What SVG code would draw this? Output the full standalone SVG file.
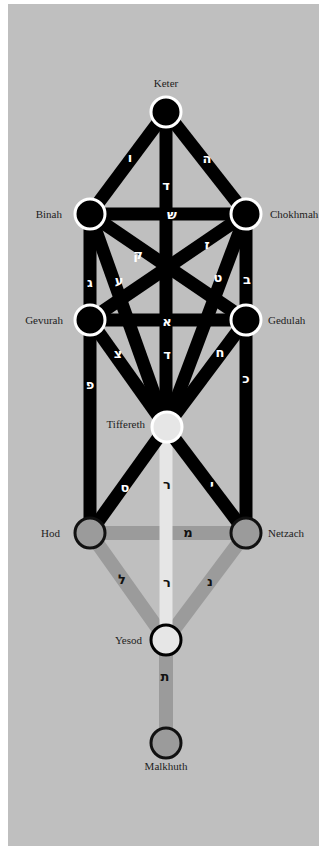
<svg xmlns="http://www.w3.org/2000/svg" width="321" height="846" viewBox="0 0 321 846">
<style>
.bk{stroke:#000;stroke-width:13;stroke-linecap:butt}
.gr{stroke:#9b9b9b;stroke-width:14}
.lt{stroke:#e6e6e6;stroke-width:13}
.he{font-family:"DejaVu Sans","Liberation Serif",sans-serif;font-size:13px;font-weight:bold;text-anchor:middle}
.hw{fill:#fff}
.hb{fill:#111}
.nm{font-family:"Liberation Serif","DejaVu Serif",serif;font-size:11px;fill:#222}
.up{fill:#000;stroke:#fff;stroke-width:3}
.tf{fill:#e6e6e6;stroke:#fff;stroke-width:3}
.lo{fill:#9b9b9b;stroke:#111;stroke-width:3}
.ys{fill:#e6e6e6;stroke:#000;stroke-width:3}
</style>
<rect x="8" y="4" width="311" height="842" fill="#bfbfbf"/>
<g id="connectors">
<line class="gr" x1="90" y1="533" x2="246" y2="533" stroke-width="15"/>
<line class="gr" x1="90" y1="533" x2="166" y2="640"/>
<line class="gr" x1="246" y1="533" x2="166" y2="640"/>
<line class="gr" x1="166" y1="640" x2="166" y2="743"/>
<line class="lt" x1="166" y1="427" x2="166" y2="640"/>
<line class="bk" x1="90" y1="214" x2="90" y2="533"/>
<line class="bk" x1="246" y1="214" x2="246" y2="533"/>
<line class="bk" x1="166" y1="427" x2="90" y2="533"/>
<line class="bk" x1="166" y1="427" x2="246" y2="533"/>
<line class="bk" x1="90" y1="214" x2="166" y2="427"/>
<line class="bk" x1="246" y1="214" x2="166" y2="427"/>
<line class="bk" x1="90" y1="320" x2="166" y2="427"/>
<line class="bk" x1="246" y1="320" x2="166" y2="427"/>
<line class="bk" x1="90" y1="214" x2="246" y2="320"/>
<line class="bk" x1="246" y1="214" x2="90" y2="320"/>
<line class="bk" x1="90" y1="320" x2="246" y2="320"/>
<line class="bk" x1="166" y1="112" x2="90" y2="214"/>
<line class="bk" x1="166" y1="112" x2="246" y2="214"/>
<line class="bk" x1="90" y1="214" x2="246" y2="214" stroke-width="16"/>
<line class="bk" x1="166" y1="112" x2="166" y2="427"/>
</g>
<g id="path-labels">
<text class="he hw" x="130" y="162">ו</text>
<text class="he hw" x="207" y="163">ה</text>
<text class="he hw" x="166" y="190">ד</text>
<text class="he hw" x="172" y="219">ש</text>
<text class="he hw" x="138" y="259">ק</text>
<text class="he hw" x="207" y="249">ז</text>
<text class="he hw" x="90" y="287">ג</text>
<text class="he hw" x="119" y="285">ע</text>
<text class="he hw" x="218" y="282">ט</text>
<text class="he hw" x="247" y="284">ב</text>
<text class="he hw" x="167" y="326">א</text>
<text class="he hw" x="118" y="358">צ</text>
<text class="he hw" x="167" y="359">ד</text>
<text class="he hw" x="220" y="357">ח</text>
<text class="he hw" x="90" y="389">פ</text>
<text class="he hw" x="246" y="383">כ</text>
<text class="he hw" x="125" y="492">ס</text>
<text class="he hw" x="212" y="489">י</text>
<text class="he hb" x="167" y="489">ר</text>
<text class="he hb" x="188" y="537">מ</text>
<text class="he hb" x="122" y="584">ל</text>
<text class="he hb" x="167" y="587">ר</text>
<text class="he hb" x="210" y="586">נ</text>
<text class="he hb" x="165" y="681">ת</text>
</g>
<g id="keter"><circle class="up" cx="166" cy="112" r="15"/><text class="nm" x="166" y="87" text-anchor="middle">Keter</text></g>
<g id="binah"><circle class="up" cx="90" cy="214" r="15"/><text class="nm" x="62" y="218" text-anchor="end">Binah</text></g>
<g id="chokhmah"><circle class="up" cx="246" cy="214" r="15"/><text class="nm" x="270" y="218">Chokhmah</text></g>
<g id="gevurah"><circle class="up" cx="90" cy="320" r="15"/><text class="nm" x="63" y="324" text-anchor="end">Gevurah</text></g>
<g id="gedulah"><circle class="up" cx="246" cy="320" r="15"/><text class="nm" x="268" y="324">Gedulah</text></g>
<g id="tiffereth"><circle class="tf" cx="167" cy="427" r="15"/><text class="nm" x="145" y="428" text-anchor="end">Tiffereth</text></g>
<g id="hod"><circle class="lo" cx="90" cy="533" r="15"/><text class="nm" x="60" y="537" text-anchor="end">Hod</text></g>
<g id="netzach"><circle class="lo" cx="246" cy="533" r="15"/><text class="nm" x="268" y="537">Netzach</text></g>
<g id="yesod"><circle class="ys" cx="166" cy="640" r="15"/><text class="nm" x="142" y="644" text-anchor="end">Yesod</text></g>
<g id="malkhuth"><circle class="lo" cx="166" cy="743" r="15"/><text class="nm" x="166" y="770" text-anchor="middle">Malkhuth</text></g>
</svg>
